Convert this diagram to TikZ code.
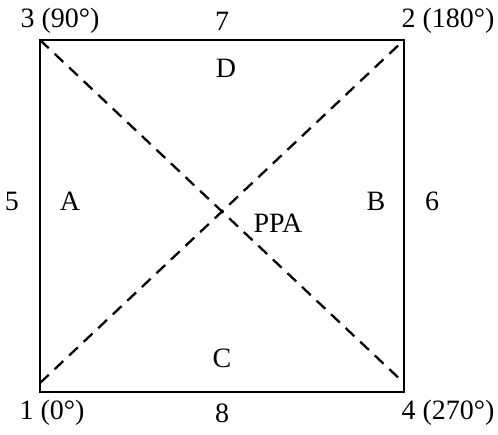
\documentclass[tikz,border=0pt]{standalone}
\usepackage{fontspec}
\setmainfont{Liberation Serif}
\begin{document}
\begin{tikzpicture}[x=1pt,y=-1pt,
  lbl/.style={font=\fontsize{28}{32}\selectfont, inner sep=0pt},
  edge/.style={line width=2.3pt},
  diag/.style={line width=2.3pt, dash pattern=on 12pt off 8pt}]
\useasboundingbox (0,0) rectangle (498,434);
\coordinate (tl) at (40,40);
\coordinate (tr) at (404,40);
\coordinate (bl) at (40,392);
\coordinate (br) at (404,392);
\coordinate (dbl) at (40,383);
\coordinate (dbr) at (404,383);
\draw[edge] (tl) -- (tr) -- (br) -- (bl) -- cycle;
\draw[diag] (tl) -- (dbr);
\draw[diag] (dbl) -- (tr);
\node[lbl] (n3) at (60,21) {3 (90°)};
\node[lbl] (n7) at (222,21) {7};
\node[lbl] (n2) at (448,21) {2 (180°)};
\node[lbl] (nD) at (226,68) {D};
\node[lbl] (n5) at (12,201) {5};
\node[lbl] (nA) at (70,201) {A};
\node[lbl] (nB) at (376,201) {B};
\node[lbl] (n6) at (432,201) {6};
\node[lbl] (nP) at (278,223) {PPA};
\node[lbl] (nC) at (222,358) {C};
\node[lbl] (n1) at (52,413) {1 (0°)};
\node[lbl] (n8) at (222,413) {8};
\node[lbl] (n4) at (448,413) {4 (270°)};
\end{tikzpicture}
\end{document}
